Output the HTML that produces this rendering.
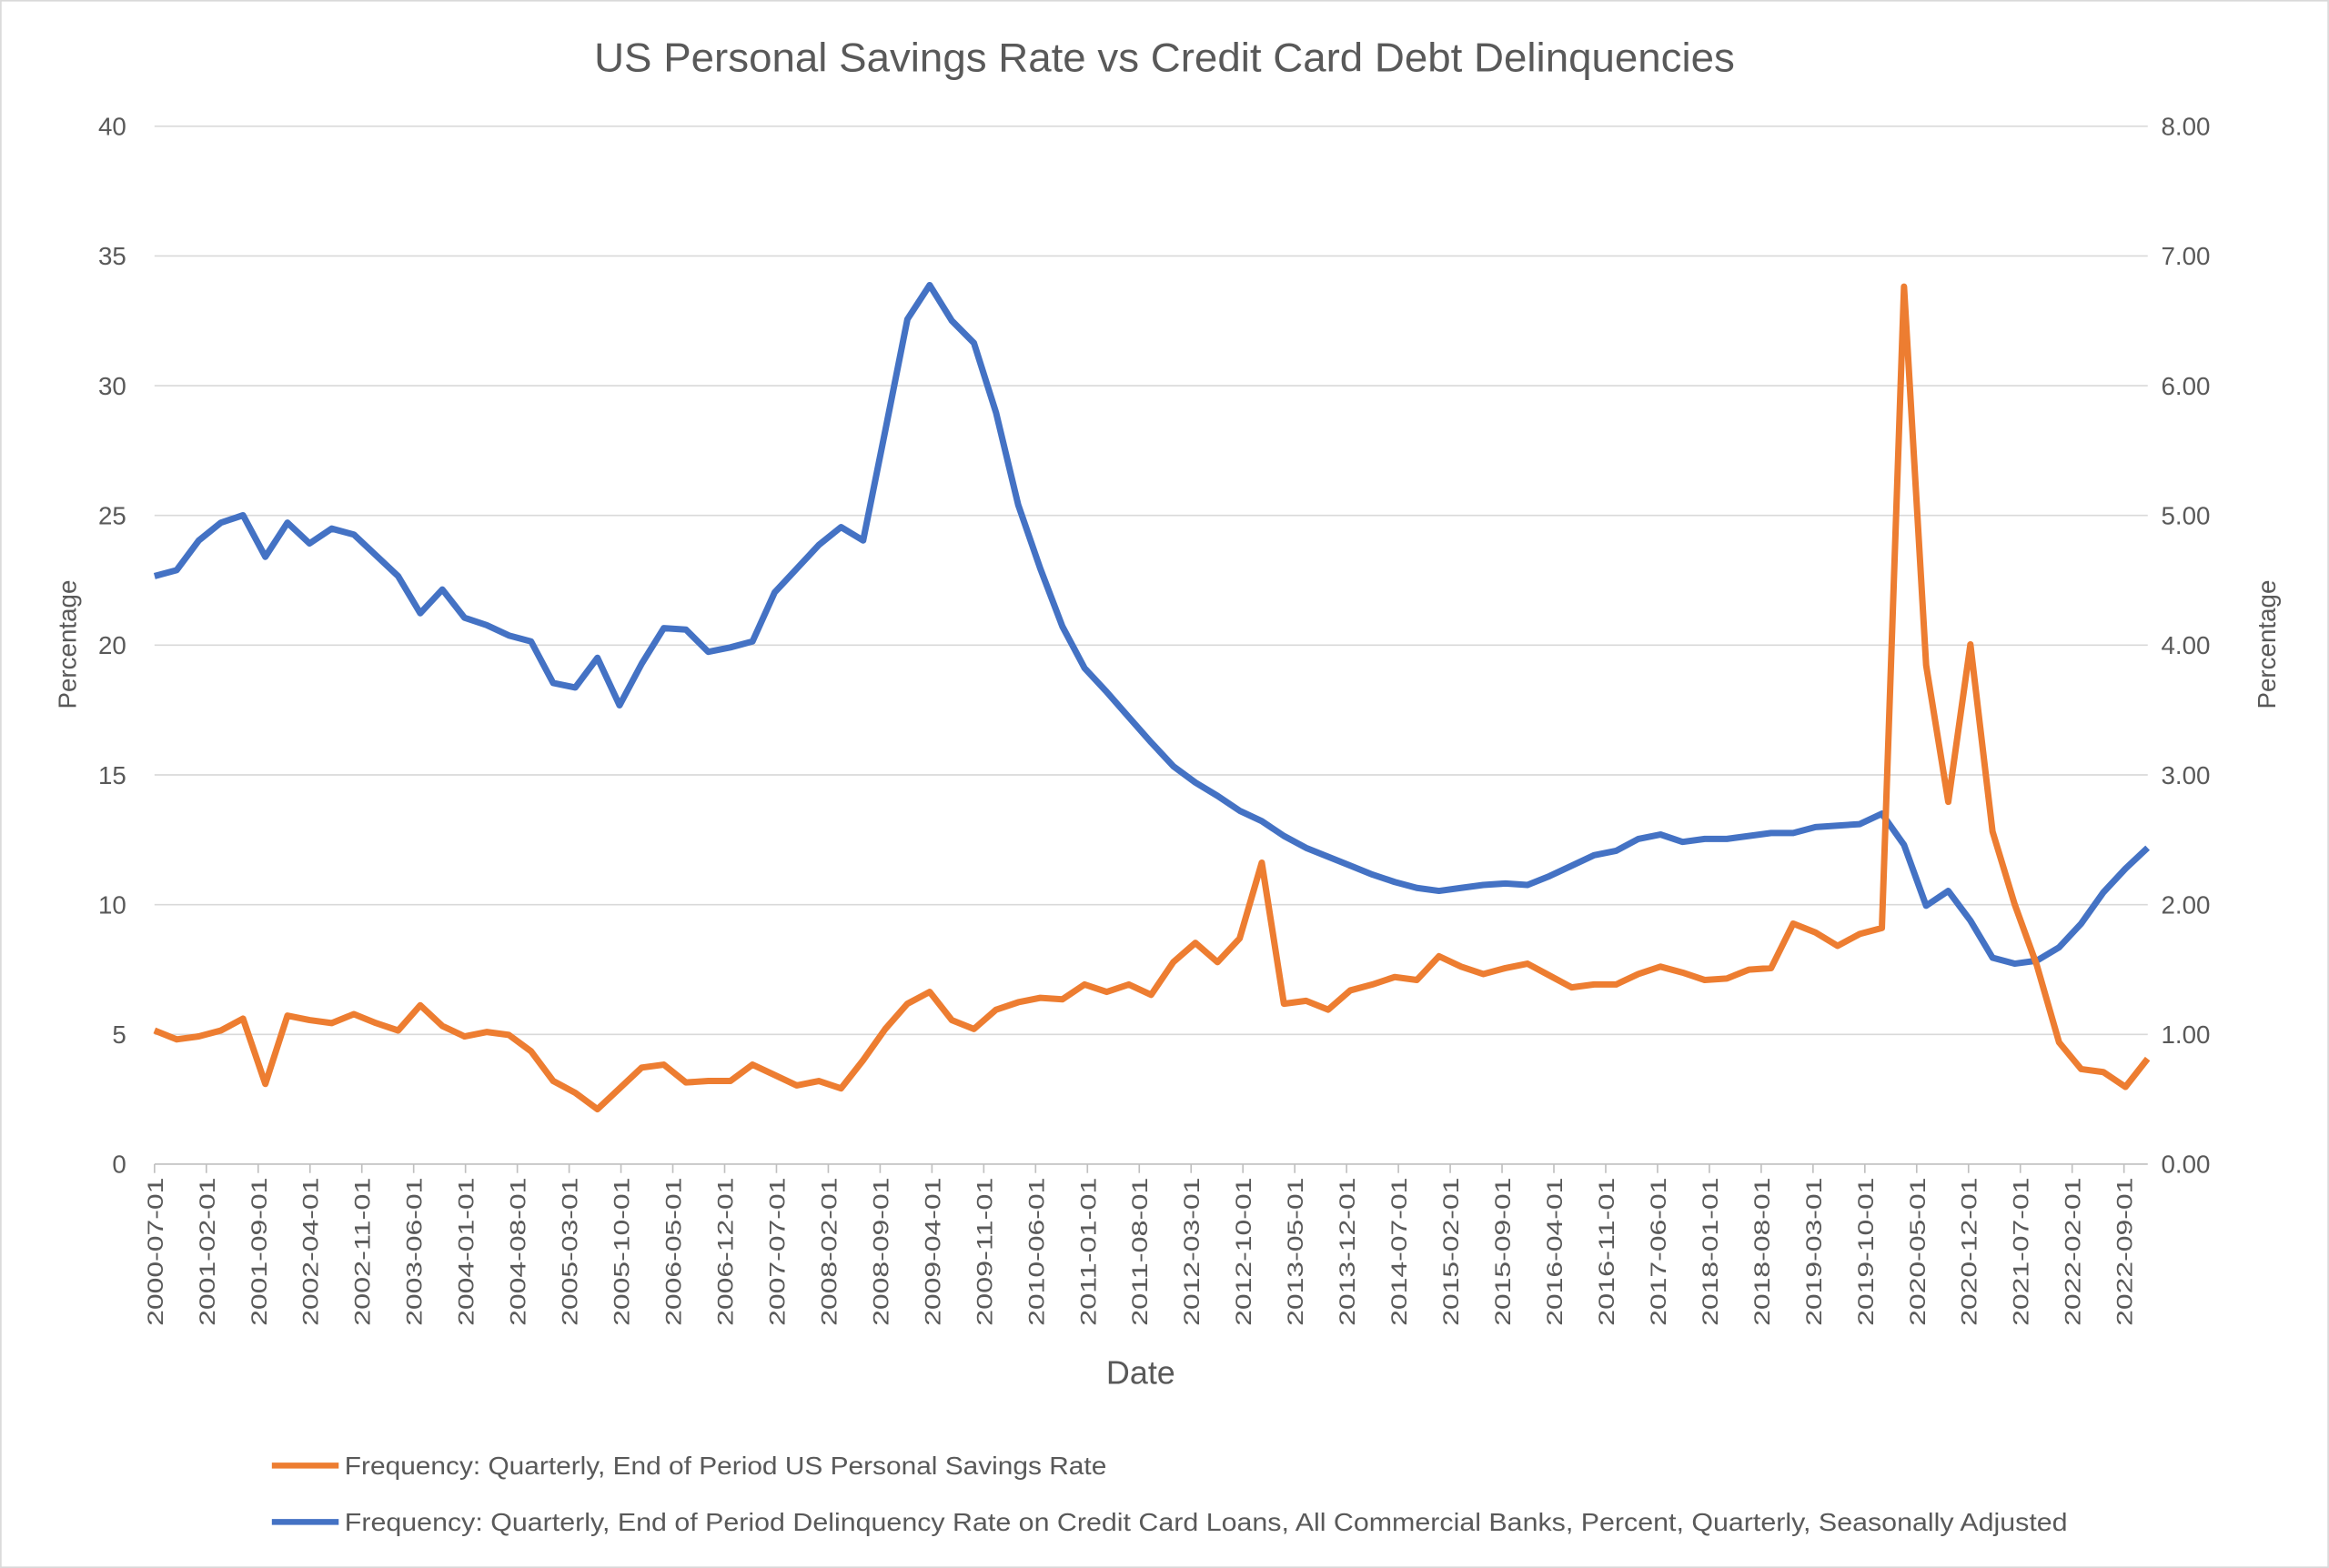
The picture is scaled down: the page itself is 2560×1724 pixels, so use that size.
<!DOCTYPE html>
<html><head><meta charset="utf-8"><style>
html,body{margin:0;padding:0;background:#fff}
svg{display:block}
text{font-family:"Liberation Sans",sans-serif;fill:#595959}
</style></head><body>
<svg id="s" width="2560" height="1724" viewBox="0 0 1568 1056" xmlns="http://www.w3.org/2000/svg">
<rect x="0.5" y="0.5" width="1567" height="1055" fill="#fff" stroke="#d9d9d9"/>
<text x="784" y="48" font-size="27" text-anchor="middle" textLength="768" lengthAdjust="spacingAndGlyphs">US Personal Savings Rate vs Credit Card Debt Delinquencies</text>
<g id="grid"></g>
<g id="xl"></g>
<text transform="translate(51,434) rotate(-90)" font-size="17" text-anchor="middle">Percentage</text>
<text transform="translate(1532,434) rotate(-90)" font-size="17" text-anchor="middle">Percentage</text>
<text x="768" y="932" font-size="22" text-anchor="middle">Date</text>
<line x1="183" y1="987" x2="228" y2="987" stroke="#ed7d31" stroke-width="4"/>
<text x="232" y="993" font-size="17" textLength="513" lengthAdjust="spacingAndGlyphs">Frequency: Quarterly, End of Period US Personal Savings Rate</text>
<line x1="183" y1="1025" x2="228" y2="1025" stroke="#4472c4" stroke-width="4"/>
<text x="232" y="1031" font-size="17" textLength="1160" lengthAdjust="spacingAndGlyphs">Frequency: Quarterly, End of Period Delinquency Rate on Credit Card Loans, All Commercial Banks, Percent, Quarterly, Seasonally Adjusted</text>
<polyline id="bl" fill="none" stroke="#4472c4" stroke-width="4.3" stroke-linejoin="round"/>
<polyline id="or" fill="none" stroke="#ed7d31" stroke-width="4.3" stroke-linejoin="round"/>
</svg>
<script>
var NS="http://www.w3.org/2000/svg",g=document.getElementById('grid'),xl=document.getElementById('xl');
function el(p,t,a,tx){var e=document.createElementNS(NS,t);for(var k in a)e.setAttribute(k,a[k]);if(tx!=null)e.textContent=tx;p.appendChild(e);return e;}
for(var i=0;i<=8;i++){var y=784-i*87.375;
 el(g,'line',{x1:104,x2:1446,y1:y,y2:y,stroke:i?'#d9d9d9':'#bfbfbf','stroke-width':1});
 el(g,'text',{x:85,y:y+6,'font-size':17,'text-anchor':'end'},String(i*5));
 el(g,'text',{x:1455,y:y+6,'font-size':17},i.toFixed(2));}
for(var j=0;j<=38;j++){var m=6+j*7,yr=2000+Math.floor(m/12),mo=m%12+1,x=104+j*7*4.985;
 el(g,'line',{x1:x,x2:x,y1:784,y2:790,stroke:'#bfbfbf'});
 var t=yr+'-'+(mo<10?'0':'')+mo+'-01';
 el(xl,'text',{transform:'translate('+(x+5.5)+',793) rotate(-90)','font-size':15,'text-anchor':'end',textLength:100,lengthAdjust:'spacingAndGlyphs'},t);}
var B=[388,384,364,352,347,375,352,366,356,360,374,388,413,397,416,421,428,432,460,463,443,475,447,423,424,439,436,432,399,383,367,355,364,290,215,192,216,231,278,340,383,422,450,466,483,500,516,527,536,546,553,563,571,577,583,589,594,598,600,598,596,595,596,590,583,576,573,565,562,567,565,565,563,561,561,557,556,555,548,569,610,600,620,645,649,647,638,622,601,585,571];
var O=[694,700,698,694,686,730,684,687,689,683,689,694,677,691,698,695,697,708,728,736,747,733,719,717,729,728,728,717,724,731,728,733,714,693,676,668,687,693,680,675,672,673,663,668,663,670,648,635,648,632,581,676,674,680,667,663,658,660,644,651,656,652,649,657,665,663,663,656,651,655,660,659,653,652,622,628,637,629,625,193,448,540,434,560,609,650,702,720,722,732,713];
function pts(a){return a.map(function(v,i){return (104+i*14.91).toFixed(1)+','+v}).join(' ');}
document.getElementById('bl').setAttribute('points',pts(B));
document.getElementById('or').setAttribute('points',pts(O));
</script>
</body></html>
